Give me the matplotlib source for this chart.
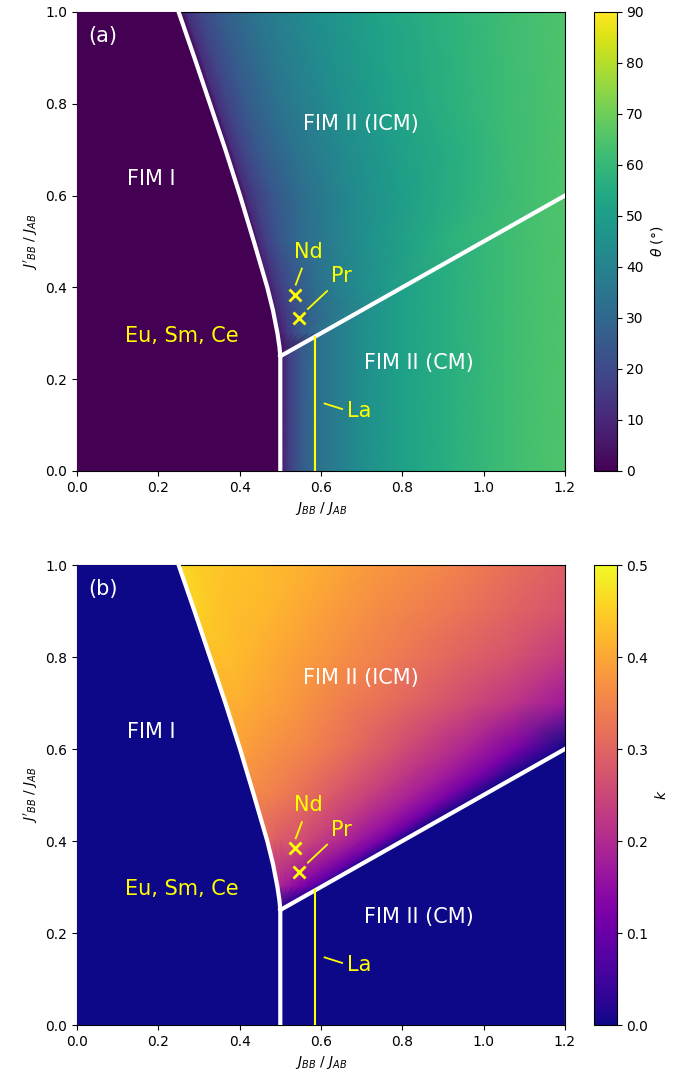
import matplotlib
matplotlib.use("Agg")
import matplotlib.pyplot as plt
import numpy as np

# phase boundary FIM I / FIM II (ICM)
bnd_y = [1.0, 0.9, 0.8, 0.7, 0.6, 0.5, 0.4, 0.35, 0.3, 0.27, 0.25]
bnd_x = [0.25, 0.289, 0.327, 0.365, 0.401, 0.435, 0.468, 0.482, 0.493, 0.498, 0.5]

# theta in the CM phase (only depends on J_BB)
cm_x = [0.5, 0.505, 0.52, 0.55, 0.6, 0.7, 0.8, 0.9, 1.0, 1.1, 1.2]
cm_theta = [0, 8, 16, 25, 34, 44, 51, 56, 60, 63, 65]

# ICM samples: one row per J'_BB, columns go from the FIM I boundary (left)
# to the right edge / CM line (right)
row_y = [1.0, 0.9, 0.8, 0.7, 0.6, 0.5, 0.4, 0.3, 0.25]
row_left = [0.25, 0.289, 0.327, 0.365, 0.401, 0.435, 0.468, 0.493, 0.5]
row_right = [1.2, 1.2, 1.2, 1.2, 1.2, 1.0, 0.8, 0.6, 0.5]
col_frac = [0, 0.02, 0.05, 0.1, 0.2, 0.35, 0.5, 0.7, 0.85, 1.0]

icm_theta = [
    [0, 12, 18, 25, 35, 44, 51, 58, 62, 65],
    [0, 12, 18, 25, 35, 44, 51, 58, 62, 65],
    [0, 12, 18, 25, 35, 44, 51, 58, 62, 65],
    [0, 12, 18, 25, 34, 43, 50, 57, 62, 65],
    [0, 11, 17, 24, 33, 43, 50, 58, 62, 65],
    [0, 10, 16, 23, 31, 39, 46, 53, 58, 60],
    [0, 7, 12, 17, 24, 32, 38, 44, 48, 51],
    [0, 3, 6, 9, 14, 20, 24, 28, 31, 34],
    [0, 0, 0, 0, 0, 0, 0, 0, 0, 0],
]
icm_k = [
    [0.46, 0.46, 0.45, 0.44, 0.43, 0.41, 0.38, 0.35, 0.32, 0.29],
    [0.45, 0.45, 0.44, 0.43, 0.42, 0.39, 0.36, 0.33, 0.30, 0.27],
    [0.43, 0.43, 0.43, 0.42, 0.40, 0.37, 0.34, 0.30, 0.27, 0.23],
    [0.42, 0.41, 0.41, 0.40, 0.38, 0.34, 0.31, 0.26, 0.22, 0.17],
    [0.39, 0.39, 0.38, 0.37, 0.35, 0.31, 0.26, 0.19, 0.12, 0.0],
    [0.36, 0.35, 0.35, 0.34, 0.32, 0.28, 0.24, 0.18, 0.12, 0.0],
    [0.30, 0.30, 0.29, 0.28, 0.27, 0.24, 0.21, 0.16, 0.11, 0.0],
    [0.19, 0.19, 0.19, 0.18, 0.17, 0.15, 0.13, 0.10, 0.07, 0.0],
    [0.0, 0.0, 0.0, 0.0, 0.0, 0.0, 0.0, 0.0, 0.0, 0.0],
]

# compounds
marker_x = [0.535, 0.547]
marker_y = [0.384, 0.333]
la_x = 0.585


def draw_panel(ax, cax, cmap_name, vmax, icm_vals, cm_vals, letter, cticks, clabel):
    cmap = plt.get_cmap(cmap_name)
    base = cmap(0.0)

    if cm_vals is not None:
        ax.pcolormesh(cm_x, [0, 0.6], np.vstack([cm_vals, cm_vals]), cmap=cmap,
                      vmin=0, vmax=vmax, shading="gouraud", zorder=1)
    else:
        ax.fill([0.5, 0.5, 1.2, 1.2], [0, 0.25, 0.6, 0], color=base, lw=0.5, zorder=3)

    # curvilinear mesh over the ICM region
    left = np.array(row_left)[:, None]
    right = np.array(row_right)[:, None]
    X = left + np.array(col_frac)[None, :] * (right - left)
    Y = np.repeat(np.array(row_y)[:, None], len(col_frac), axis=1)
    mesh = ax.pcolormesh(X, Y, np.array(icm_vals), cmap=cmap, vmin=0, vmax=vmax,
                         shading="gouraud", zorder=2)

    # FIM I region
    ax.fill([0, 0] + bnd_x + [0.5], [0, 1] + bnd_y + [0], color=base, lw=0.5, zorder=3)

    # boundaries
    ax.plot(bnd_x + [0.5], bnd_y + [0.0], color="white", lw=3, zorder=5)
    ax.plot([0.5, 1.2], [0.25, 0.6], color="white", lw=3, zorder=5)

    # La line and markers
    ax.plot([la_x, la_x], [0, la_x / 2], color="yellow", lw=1.5, zorder=6)
    ax.plot(marker_x, marker_y, "x", color="yellow", ms=9, mew=2, zorder=6)
    ax.plot([0.538, 0.553], [0.406, 0.441], color="yellow", lw=1.3, zorder=6)
    ax.plot([0.568, 0.615], [0.353, 0.392], color="yellow", lw=1.3, zorder=6)
    ax.plot([0.609, 0.652], [0.147, 0.135], color="yellow", lw=1.3, zorder=6)

    ax.text(0.57, 0.478, "Nd", color="yellow", fontsize=15, ha="center", va="center", zorder=7)
    ax.text(0.65, 0.425, "Pr", color="yellow", fontsize=15, ha="center", va="center", zorder=7)
    ax.text(0.693, 0.13, "La", color="yellow", fontsize=15, ha="center", va="center", zorder=7)
    ax.text(0.257, 0.295, "Eu, Sm, Ce", color="yellow", fontsize=15, ha="center", va="center", zorder=7)
    ax.text(0.182, 0.637, "FIM I", color="white", fontsize=15, ha="center", va="center", zorder=7)
    ax.text(0.698, 0.755, "FIM II (ICM)", color="white", fontsize=15, ha="center", va="center", zorder=7)
    ax.text(0.842, 0.235, "FIM II (CM)", color="white", fontsize=15, ha="center", va="center", zorder=7)
    ax.text(0.064, 0.947, letter, color="white", fontsize=15, ha="center", va="center", zorder=7)

    ax.set_xlim(0, 1.2)
    ax.set_ylim(0, 1.0)
    ax.set_xticks(np.arange(0, 1.21, 0.2))
    ax.set_yticks(np.arange(0, 1.01, 0.2))
    ax.set_xlabel(r"$J_{BB}$ / $J_{AB}$")
    ax.set_ylabel(r"$J'_{BB}$ / $J_{AB}$")

    cb = plt.colorbar(mesh, cax=cax, ticks=cticks)
    cb.set_label(clabel)


def main():
    fig = plt.figure(figsize=(6.92, 10.81), dpi=100)
    ax_a = fig.add_axes([0.1113, 0.5643, 0.705, 0.4246])
    cax_a = fig.add_axes([0.858, 0.5643, 0.033, 0.4246])
    ax_b = fig.add_axes([0.1113, 0.0518, 0.705, 0.4255])
    cax_b = fig.add_axes([0.858, 0.0518, 0.033, 0.4255])

    draw_panel(ax_a, cax_a, "viridis", 90, icm_theta, cm_theta,
               "(a)", list(range(0, 91, 10)), r"$\theta$ (°)")
    draw_panel(ax_b, cax_b, "plasma", 0.5, icm_k, None,
               "(b)", [0.0, 0.1, 0.2, 0.3, 0.4, 0.5], r"$k$")

    fig.savefig("out.png", dpi=100)


main()
